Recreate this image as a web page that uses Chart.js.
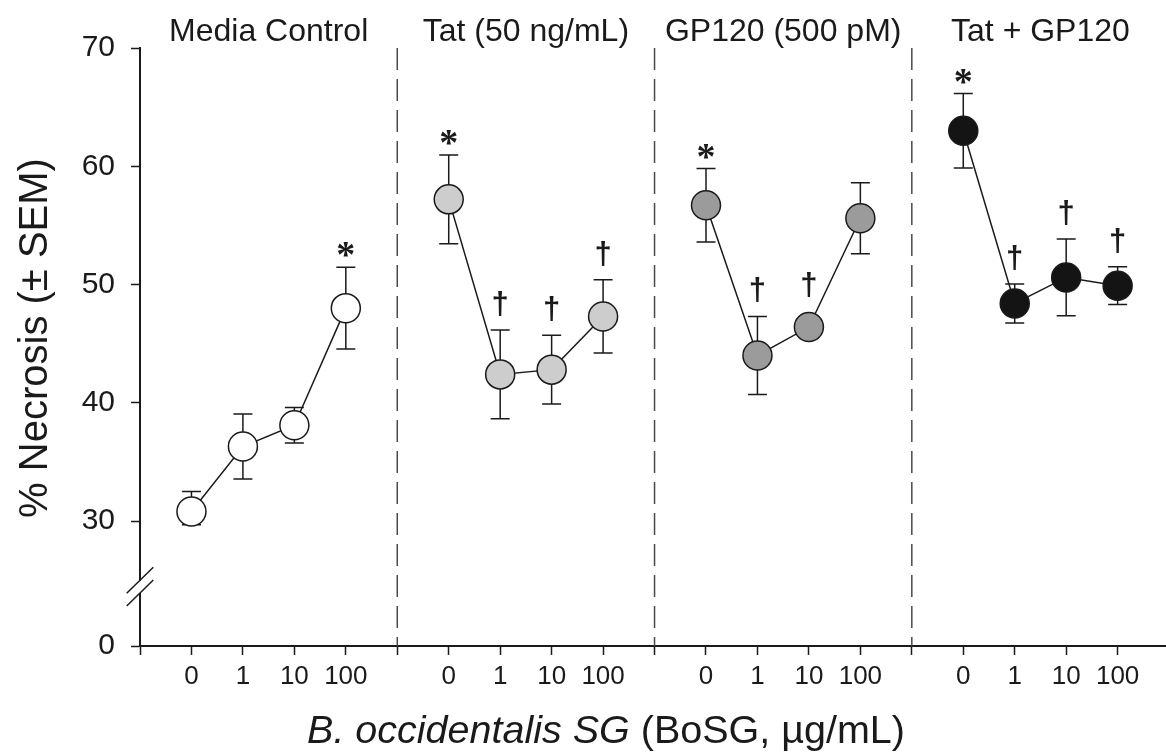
<!DOCTYPE html>
<html>
<head>
<meta charset="utf-8">
<script src="https://cdn.jsdelivr.net/npm/chart.js@4.4.1/dist/chart.umd.min.js"></script>
<style>
    html, body { margin: 0; padding: 0; background: #fff; }
    #wrap { width: 1166px; height: 752px; position: relative; }
</style>
</head>
<body>
<div id="wrap"><canvas id="necrosisChart"></canvas></div>
<script>
// groups / doses
const groupNames = ['Media Control', 'Tat (50 ng/mL)', 'GP120 (500 pM)', 'Tat + GP120'];
const doseLabels = ['0', '1', '10', '100'];

// % necrosis means per group (dose 0, 1, 10, 100)
const mediaControl = [30.8, 36.3, 38.1, 48.0];
const tat          = [57.2, 42.4, 42.8, 47.3];
const gp120        = [56.7, 44.0, 46.4, 55.6];
const tatGp120     = [63.0, 48.4, 50.6, 49.9];

// SEM
const semMedia  = [1.7, 2.75, 1.5, 3.45];
const semTat    = [3.75, 3.75, 2.9, 3.1];
const semGp120  = [3.1, 3.3, 0.9, 3.0];
const semTatGp  = [3.15, 1.65, 3.25, 1.6];

// significance marks
const marksMedia = ['', '', '', '*'];
const marksTat   = ['*', '†', '†', '†'];
const marksGp120 = ['*', '†', '†', ''];
const marksTatGp = ['*', '†', '†', '†'];

const yTickValues = [0, 30, 40, 50, 60, 70];

const groupFills = ['#ffffff', '#cdcdcd', '#9b9b9b', '#141414'];
const INK = '#1a1a1a';
const FONT = '"Liberation Sans", Arial, sans-serif';
const SERIF = '"Liberation Serif", "Times New Roman", serif';

// broken axis: 0..30 squeezed into a short stretch under 30
const BREAK_ZERO = 19.43;
function toAxis(v){
    return v >= 30 ? v : BREAK_ZERO + v * (30 - BREAK_ZERO) / 30;
}

const SLOTS = 5; // 4 doses + one divider slot per group
const means = [mediaControl, tat, gp120, tatGp120];
const sems = [semMedia, semTat, semGp120, semTatGp];
const marks = [marksMedia, marksTat, marksGp120, marksTatGp];

const datasets = means.map((vals, g) => ({
    label: groupNames[g],
    data: vals.map((v, i) => ({x: g * SLOTS + i + 1, y: toAxis(v)})),
    sem: sems[g],
    means: vals,
    marks: marks[g],
    borderColor: INK,
    borderWidth: 1.5,
    backgroundColor: groupFills[g],
    pointBackgroundColor: groupFills[g],
    pointBorderColor: INK,
    pointBorderWidth: 1.5,
    pointRadius: 14.5,
    tension: 0,
    clip: false
}));

const errorBars = {
    id: 'errorBars',
    beforeDatasetsDraw(chart){
        const ctx = chart.ctx, y = chart.scales.y, area = chart.chartArea;
        ctx.save();
        // group dividers
        ctx.strokeStyle = '#4a4a4a';
        ctx.lineWidth = 1.5;
        ctx.setLineDash([22, 9]);
        for (let g = 1; g < groupNames.length; g++) {
            const px = chart.scales.x.getPixelForValue(g * SLOTS);
            ctx.beginPath();
            ctx.moveTo(px, area.top);
            ctx.lineTo(px, area.bottom);
            ctx.stroke();
        }
        ctx.setLineDash([]);
        ctx.strokeStyle = INK;
        chart.data.datasets.forEach((ds, di) => {
            chart.getDatasetMeta(di).data.forEach((pt, i) => {
                const top = y.getPixelForValue(toAxis(ds.means[i] + ds.sem[i]));
                const bot = y.getPixelForValue(toAxis(ds.means[i] - ds.sem[i]));
                ctx.beginPath();
                ctx.moveTo(pt.x, top); ctx.lineTo(pt.x, bot);
                ctx.moveTo(pt.x - 9.5, top); ctx.lineTo(pt.x + 9.5, top);
                ctx.moveTo(pt.x - 9.5, bot); ctx.lineTo(pt.x + 9.5, bot);
                ctx.stroke();
            });
        });
        ctx.restore();
    },
    afterDatasetsDraw(chart){
        const ctx = chart.ctx, y = chart.scales.y;
        ctx.save();
        ctx.fillStyle = INK;
        ctx.textAlign = 'center';
        ctx.textBaseline = 'alphabetic';
        chart.data.datasets.forEach((ds, di) => {
            chart.getDatasetMeta(di).data.forEach((pt, i) => {
                const m = ds.marks[i];
                if (!m) return;
                const top = y.getPixelForValue(toAxis(ds.means[i] + ds.sem[i]));
                const circleTop = pt.y - 16;
                const edge = Math.min(top, circleTop);
                ctx.font = m === '*' ? 'bold 38px ' + SERIF : 'bold 31px ' + FONT;
                const desc = ctx.measureText(m).actualBoundingBoxDescent;
                const gap = m === '*' ? 10 : 13;
                ctx.fillText(m, pt.x, edge - gap - desc);
            });
        });
        ctx.restore();
    }
};

const labelsAndBreak = {
    id: 'labelsAndBreak',
    afterDraw(chart){
        const ctx = chart.ctx, x = chart.scales.x, area = chart.chartArea;
        ctx.save();
        // axis break
        const ax = area.left;
        ctx.fillStyle = '#fff';
        ctx.fillRect(ax - 3, 581, 6, 12);
        ctx.strokeStyle = INK;
        ctx.lineWidth = 1.5;
        ctx.beginPath();
        ctx.moveTo(ax - 13.3, 593.3); ctx.lineTo(ax + 13.3, 567.3);
        ctx.moveTo(ax - 13.3, 606); ctx.lineTo(ax + 13.3, 580);
        ctx.stroke();

        ctx.fillStyle = INK;
        // group headings
        ctx.font = '32px ' + FONT;
        ctx.textAlign = 'center';
        ctx.textBaseline = 'alphabetic';
        groupNames.forEach((name, g) => {
            ctx.fillText(name, x.getPixelForValue(g * SLOTS + 2.5), 41);
        });

        // x title, italic species name
        const partA = 'B. occidentalis SG';
        const partB = ' (BoSG, µg/mL)';
        ctx.font = 'italic 39.5px ' + FONT;
        const wA = ctx.measureText(partA).width;
        ctx.font = '39.5px ' + FONT;
        const wB = ctx.measureText(partB).width;
        let sx = 606 - (wA + wB) / 2;
        ctx.textAlign = 'left';
        ctx.font = 'italic 39.5px ' + FONT;
        ctx.fillText(partA, sx, 743);
        ctx.font = '39.5px ' + FONT;
        ctx.fillText(partB, sx + wA, 743);

        // y title
        ctx.translate(47, 338);
        ctx.rotate(-Math.PI / 2);
        ctx.textAlign = 'center';
        ctx.font = '40px ' + FONT;
        ctx.fillText('% Necrosis (± SEM)', 0, 0);
        ctx.restore();
    }
};

new Chart(document.getElementById('necrosisChart'), {
    type: 'line',
    data: { datasets: datasets },
    options: {
        responsive: true,
        maintainAspectRatio: false,
        animation: false,
        layout: { autoPadding: false, padding: { top: 48, left: 0, right: 0, bottom: 0 } },
        plugins: { legend: { display: false }, tooltip: { enabled: false } },
        scales: {
            x: {
                type: 'linear',
                min: 0,
                max: 19.94,
                afterBuildTicks: (scale) => {
                    const t = [];
                    for (let v = 0; v < groupNames.length * SLOTS; v++) t.push({value: v});
                    scale.ticks = t;
                },
                afterFit: (scale) => {
                    scale.height = 106;
                    scale.paddingLeft = 0;
                    scale.paddingRight = 0;
                },
                grid: { drawOnChartArea: false, drawTicks: true, tickLength: 9, tickColor: INK, tickWidth: 1.5 },
                border: { display: true, color: INK, width: 2 },
                ticks: {
                    autoSkip: false,
                    maxRotation: 0,
                    padding: 6,
                    color: INK,
                    font: { family: FONT, size: 26 },
                    callback: (v) => (v % SLOTS === 0 ? '' : doseLabels[(v % SLOTS) - 1])
                }
            },
            y: {
                type: 'linear',
                min: BREAK_ZERO,
                max: 70,
                afterBuildTicks: (scale) => {
                    scale.ticks = yTickValues.map(v => ({value: toAxis(v)}));
                },
                afterFit: (scale) => {
                    scale.width = 140;
                    scale.paddingTop = 0;
                    scale.paddingBottom = 0;
                },
                grid: { drawOnChartArea: false, drawTicks: true, tickLength: 9, tickColor: INK, tickWidth: 1.5 },
                border: { display: true, color: INK, width: 2 },
                ticks: {
                    padding: 16,
                    color: INK,
                    font: { family: FONT, size: 30 },
                    callback: (v, i) => String(yTickValues[i])
                }
            }
        }
    },
    plugins: [errorBars, labelsAndBreak]
});
</script>
</body>
</html>
